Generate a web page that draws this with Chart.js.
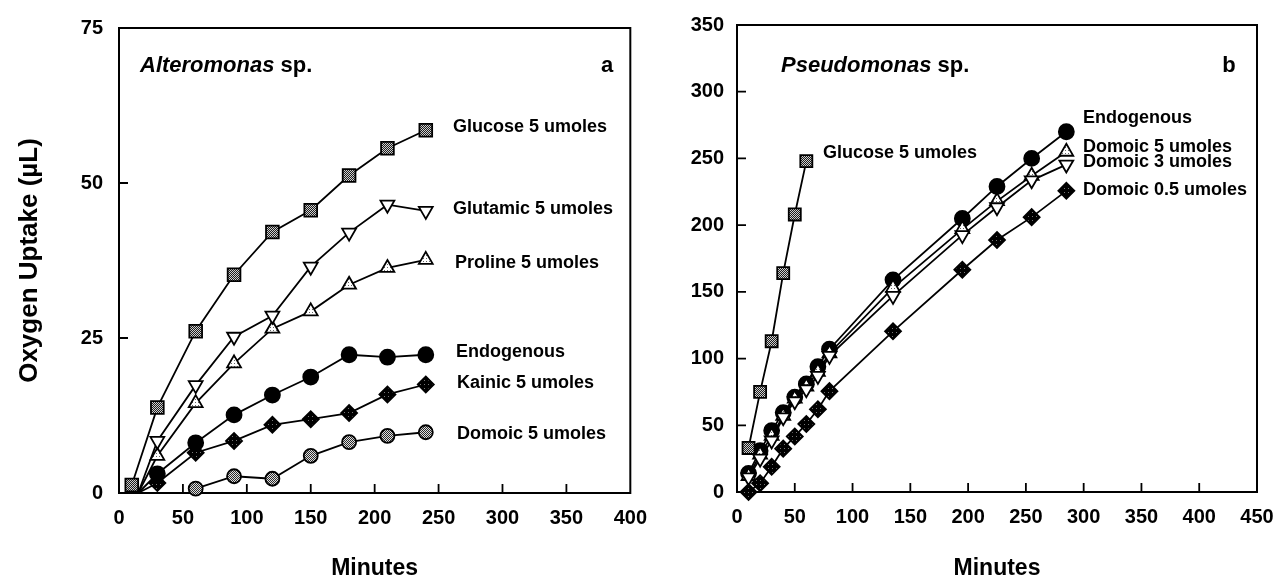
<!DOCTYPE html>
<html>
<head>
<meta charset="utf-8">
<script src="https://cdn.jsdelivr.net/npm/chart.js@4.4.1/dist/chart.umd.min.js"></script>
<style>
  html, body { margin: 0; padding: 0; background: #fff; }
  #wrap { position: relative; width: 1288px; height: 584px; }
  #chartA { position: absolute; left: 0; top: 0; }
  #chartB { position: absolute; left: 660px; top: 0; }
</style>
</head>
<body>
<div id="wrap">
  <canvas id="chartA" width="660" height="584"></canvas>
  <canvas id="chartB" width="628" height="584"></canvas>
</div>
<script>
// panel a - Alteromonas sp.
const timeA = [30, 60, 90, 120, 150, 180, 210, 240];
const glucoseA = [1.3, 13.8, 26.1, 35.2, 42.1, 45.6, 51.2, 55.6, 58.5]; // first point at 10 min
const glutamicA = [0, 8.4, 17.4, 25.2, 28.6, 36.5, 42.0, 46.5, 45.5]; // first point at 15 min
const prolineA = [0, 6.0, 14.5, 20.9, 26.5, 29.3, 33.6, 36.3, 37.6];
const endogenousA = [0, 3.1, 8.1, 12.6, 15.8, 18.7, 22.3, 21.9, 22.3];
const kainicA = [0, 1.6, 6.5, 8.4, 11.0, 11.9, 12.9, 15.9, 17.5];
const domoicA = [0.7, 2.7, 2.3, 6.0, 8.2, 9.2, 9.8]; // from 60 min
const yTicksA = [0, 25, 50, 75];
const xTicksA = [0, 50, 100, 150, 200, 250, 300, 350, 400];

// panel b - Pseudomonas sp.
const glucoseTimeB = [10, 20, 30, 40, 50, 60];
const glucoseB = [33, 75, 113, 164, 208, 248];
const timeB = [10, 20, 30, 40, 50, 60, 70, 80, 135, 195, 225, 255, 285];
const endogenousB = [14, 31, 46, 59.5, 71, 81, 94, 107, 159, 205, 229, 250, 270];
const domoic5B = [12, 28, 42, 57, 70, 79, 90, 104, 153, 197, 218, 237, 255];
const domoic3B = [11, 25, 38.6, 56, 68, 77, 87, 102, 147, 192.5, 213.4, 233.6, 245.4];
const domoic05B = [0, 6.6, 18.9, 32.5, 41.6, 51, 62, 75.6, 120.4, 166.6, 188.8, 206, 225.7];
const yTicksB = [0, 50, 100, 150, 200, 250, 300, 350];
const xTicksB = [0, 50, 100, 150, 200, 250, 300, 350, 400, 450];

const FONT = "'Liberation Sans', Arial, Helvetica, sans-serif";

function stipple(base, dot, size) {
  const c = document.createElement("canvas");
  c.width = size;
  c.height = size;
  const g = c.getContext("2d");
  g.fillStyle = base;
  g.fillRect(0, 0, size, size);
  g.fillStyle = dot;
  g.fillRect(0, 0, 1, 1);
  if (size === 2) g.fillRect(1, 1, 1, 1);
  return g.createPattern(c, "repeat");
}

const darkGrid = stipple("#1c1c1c", "#cfcfcf", 2);
const blackDots = stipple("#000", "#777", 4);
const lightGrey = stipple("#e0e0e0", "#2a2a2a", 2);
const whiteDots = stipple("#fff", "#666", 3);

function series(xs, ys, shape, fill, r, opts = {}) {
  return {
    data: xs.map((x, i) => ({ x: x, y: ys[i] })),
    showLine: true,
    borderColor: "#000",
    borderWidth: 1.8,
    clip: false,
    pointStyle: shape,
    pointRotation: opts.rot || 0,
    pointBackgroundColor: fill,
    pointBorderColor: "#000",
    pointBorderWidth: 1.8,
    pointRadius: (ctx) => (opts.hideFirst && ctx.dataIndex === 0 ? 0 : r),
    pointHoverRadius: r,
  };
}

function tickValues(list) {
  return (scale) => {
    scale.ticks = list.map((v) => ({ value: v }));
  };
}

// frame, inward tick marks and text labels
const panelPlugin = {
  id: "panel",
  beforeDatasetsDraw(chart, args, opts) {
    const { ctx, chartArea: a, scales } = chart;
    ctx.save();
    ctx.strokeStyle = "#000";
    ctx.lineWidth = 2;
    ctx.strokeRect(a.left, a.top, a.right - a.left, a.bottom - a.top);
    ctx.lineWidth = 1.8;
    ctx.beginPath();
    scales.x.ticks.forEach((t) => {
      if (t.value === scales.x.min || t.value === scales.x.max) return;
      const px = scales.x.getPixelForValue(t.value);
      ctx.moveTo(px, a.bottom);
      ctx.lineTo(px, a.bottom - 9);
    });
    scales.y.ticks.forEach((t) => {
      if (t.value === scales.y.min || t.value === scales.y.max) return;
      const py = scales.y.getPixelForValue(t.value);
      ctx.moveTo(a.left, py);
      ctx.lineTo(a.left + 9, py);
    });
    ctx.stroke();
    ctx.restore();
  },
  afterDraw(chart, args, opts) {
    const ctx = chart.ctx;
    ctx.save();
    ctx.fillStyle = "#000";
    ctx.textBaseline = "middle";
    // title: italic genus + plain "sp."
    ctx.textAlign = "left";
    ctx.font = "italic bold 22px " + FONT;
    ctx.fillText(opts.genus, opts.titleX, opts.titleY);
    const w = ctx.measureText(opts.genus + " ").width;
    ctx.font = "bold 22px " + FONT;
    ctx.fillText("sp.", opts.titleX + w, opts.titleY);
    ctx.textAlign = "center";
    ctx.fillText(opts.letter, opts.letterX, opts.titleY);
    ctx.textAlign = "left";
    ctx.font = "bold 18px " + FONT;
    opts.labels.forEach(([text, x, y]) => ctx.fillText(text, x, y));
    ctx.restore();
  },
};

function axisOptions(min, max, ticks, pad, size, horiz) {
  return {
    type: "linear",
    min: min,
    max: max,
    afterBuildTicks: tickValues(ticks),
    grid: { display: false, drawTicks: false },
    border: { display: false },
    ticks: {
      color: "#000",
      padding: pad,
      font: { family: FONT, size: 20, weight: "bold" },
      autoSkip: false,
      maxRotation: 0,
    },
    afterFit: (s) => {
      if (horiz) s.height = size;
      else s.width = size;
    },
  };
}

const chartA = new Chart(document.getElementById("chartA"), {
  type: "scatter",
  data: {
    datasets: [
      series([10, ...timeA], glucoseA, "rect", darkGrid, 9),
      series([15, ...timeA], glutamicA, "triangle", "#fff", 8, { rot: 180, hideFirst: true }),
      series([15, ...timeA], prolineA, "triangle", whiteDots, 8, { hideFirst: true }),
      series([15, ...timeA], endogenousA, "circle", "#000", 7.5, { hideFirst: true }),
      series([15, ...timeA], kainicA, "rectRot", blackDots, 8, { hideFirst: true }),
      series(timeA.slice(1), domoicA, "circle", lightGrey, 7),
    ],
  },
  options: {
    responsive: false,
    animation: false,
    events: [],
    layout: { padding: { top: 20, right: 19, left: 0, bottom: 0 } },
    plugins: {
      legend: { display: false },
      tooltip: { enabled: false },
      panel: {
        genus: "Alteromonas",
        titleX: 140,
        titleY: 66,
        letter: "a",
        letterX: 607,
        labels: [
          ["Glucose 5 umoles", 453, 127],
          ["Glutamic 5 umoles", 453, 209],
          ["Proline 5 umoles", 455, 263],
          ["Endogenous", 456, 352],
          ["Kainic 5 umoles", 457, 383],
          ["Domoic 5 umoles", 457, 434],
        ],
      },
    },
    scales: {
      x: {
        ...axisOptions(0, 400, xTicksA, 13, 91, true),
        title: {
          display: true,
          text: "Minutes",
          color: "#000",
          font: { family: FONT, size: 23, weight: "bold" },
          padding: { top: 0, bottom: 2 },
        },
      },
      y: {
        ...axisOptions(0, 75, yTicksA, 16, 119, false),
        title: {
          display: true,
          text: "Oxygen Uptake (\u00b5L)",
          color: "#000",
          font: { family: FONT, size: 26, weight: "bold" },
          padding: { top: 14, bottom: 0 },
        },
      },
    },
  },
  plugins: [panelPlugin],
});

const chartB = new Chart(document.getElementById("chartB"), {
  type: "scatter",
  data: {
    datasets: [
      series(glucoseTimeB, glucoseB, "rect", darkGrid, 8.5),
      series(timeB, domoic05B, "rectRot", blackDots, 8),
      series(timeB, domoic3B, "triangle", "#fff", 8, { rot: 180 }),
      series(timeB, domoic5B, "triangle", whiteDots, 8),
      series(timeB, endogenousB, "circle", "#000", 7.5),
    ],
  },
  options: {
    responsive: false,
    animation: false,
    events: [],
    layout: { padding: { top: 18, right: 31, left: 0, bottom: 0 } },
    plugins: {
      legend: { display: false },
      tooltip: { enabled: false },
      panel: {
        genus: "Pseudomonas",
        titleX: 121,
        titleY: 66,
        letter: "b",
        letterX: 569,
        labels: [
          ["Glucose 5 umoles", 163, 153],
          ["Endogenous", 423, 118],
          ["Domoic 5 umoles", 423, 147],
          ["Domoic 3 umoles", 423, 162],
          ["Domoic 0.5 umoles", 423, 190],
        ],
      },
    },
    scales: {
      x: {
        ...axisOptions(0, 450, xTicksB, 13, 92, true),
        title: {
          display: true,
          text: "Minutes",
          color: "#000",
          font: { family: FONT, size: 23, weight: "bold" },
          padding: { top: 0, bottom: 2 },
        },
      },
      y: axisOptions(0, 350, yTicksB, 13, 77, false),
    },
  },
  plugins: [panelPlugin],
});
</script>
</body>
</html>
